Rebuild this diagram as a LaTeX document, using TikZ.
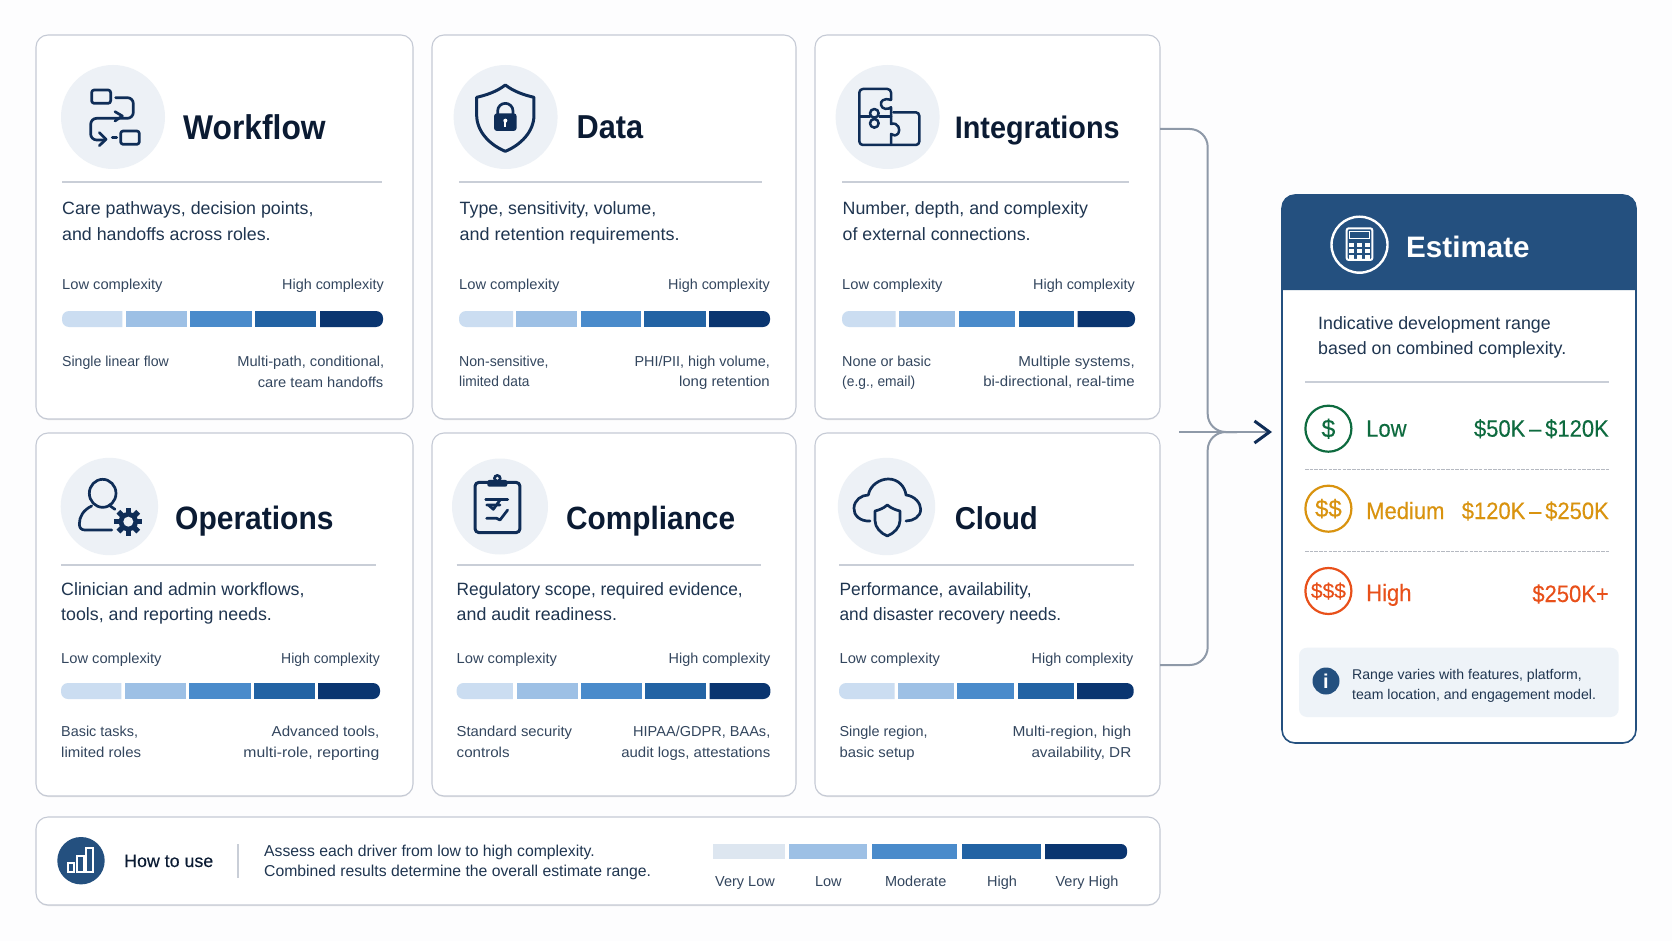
\documentclass[tikz,border=0pt]{standalone}
\usepackage{graphicx}
\usepackage{fontspec}
\setmainfont{Liberation Sans}
\newfontfamily\medfont[FakeBold=0.25]{Liberation Sans}
\usetikzlibrary{arrows.meta,calc}
\definecolor{bgc}{HTML}{FDFDFE}
\definecolor{navy}{HTML}{0F2D57}
\definecolor{ink}{HTML}{0B1B33}
\definecolor{dtext}{HTML}{1F3550}
\definecolor{stext}{HTML}{33465E}
\definecolor{cardb}{HTML}{C5CAD5}
\definecolor{sepc}{HTML}{C9CED7}
\definecolor{disc}{HTML}{EDF1F6}
\definecolor{sa}{HTML}{CBDDF1}
\definecolor{sb}{HTML}{9DC0E5}
\definecolor{sc}{HTML}{4A8BCB}
\definecolor{sd}{HTML}{2263A4}
\definecolor{se}{HTML}{0A3570}
\definecolor{sz}{HTML}{DDE6F0}
\definecolor{hdr}{HTML}{24507F}
\definecolor{conc}{HTML}{8E99A8}
\definecolor{gr}{HTML}{0E6B3F}
\definecolor{am}{HTML}{D9930F}
\definecolor{rd}{HTML}{E8501A}
\definecolor{infoc}{HTML}{EEF3F8}
\newcommand{\fs}[1]{\fontsize{#1}{#1}\selectfont}
\newcommand{\sx}[2]{\scalebox{#1}[1]{#2}}
\newcommand{\tall}[1]{\scalebox{1}[1.08]{#1}}
\newcommand{\lowc}{\sx{1.02}{Low complexity}}
\newcount\tn
\newcommand{\LT}[4]{\global\advance\tn by 1 \node[anchor=base west,inner sep=0,#1] (t\the\tn) at (#2,#3) {#4};}
\newcommand{\RT}[4]{\global\advance\tn by 1 \node[anchor=base east,inner sep=0,#1] (t\the\tn) at (#2,#3) {#4};}
\newcommand{\CT}[4]{\global\advance\tn by 1 \node[anchor=base,inner sep=0,#1] (t\the\tn) at (#2,#3) {#4};}
\newcommand{\Card}[5]{\pgfmathsetmacro{\cw}{#4-#2}\pgfmathsetmacro{\ch}{#5-#3}\pgfmathsetmacro{\cx}{(#4+#2)/2}\pgfmathsetmacro{\cy}{(#5+#3)/2}
  \fill[black!10,rounded corners=12pt] (#2,#3+2) rectangle (#4,#5+1);
  \node[cardbox,minimum width=\cw pt,minimum height=\ch pt] (#1) at (\cx,\cy) {};}
\newcommand{\Bar}[7]{\fill[#1] (#5,#2) {[rounded corners=7pt] -- (#4,#2) -- (#4,#3)} -- (#5,#3) -- cycle;
  \fill[sb] (#6,#2) rectangle (#7,#3);}
\newcommand{\BarB}[9]{\fill[sc] (#3,#1) rectangle (#4,#2);
  \fill[sd] (#5,#1) rectangle (#6,#2);
  \fill[se] (#7,#1) {[rounded corners=7pt] -- (#8,#1) -- (#8,#2)} -- (#7,#2) -- cycle;}
\newcommand{\Sep}[3]{\draw[sepl] (#1,#3) -- (#2,#3);}
\tikzset{
 cardbox/.style={draw=cardb,fill=white,line width=1.1pt,rounded corners=12pt,inner sep=0,outer sep=0},
 sepl/.style={draw=sepc,line width=1.6pt},
 ttl/.style={text=ink},
 dsc/.style={font=\fs{17.8},text=dtext},
 sml/.style={font=\fs{14.4},text=stext},
 ico/.style={draw=navy,line width=2.7pt,line cap=round,line join=round},
 conn/.style={draw=conc,line width=2pt,rounded corners=18pt},
 rowlab/.style={font=\fs{22}\medfont},
}
\begin{document}
\begin{tikzpicture}[x=1pt,y=-1pt]
\fill[bgc] (0,0) rectangle (1672,941);
\useasboundingbox (0,0) rectangle (1672,941);
\coordinate (jt) at (1207.7,129);
\coordinate (jb) at (1207.7,665);
\coordinate (jm) at (1207.7,432);
\coordinate (am) at (1237,432);
\coordinate (as) at (1179,432);
\coordinate (ae) at (1272,432);
% cards
\Card{c1}{36}{35}{413}{419}
\Card{c2}{432}{35}{796}{419}
\Card{c3}{815}{35}{1160}{419}
\Card{c4}{36}{433}{413}{796}
\Card{c5}{432}{433}{796}{796}
\Card{c6}{815}{433}{1160}{796}
\Card{c7}{36}{817}{1160}{905}
\coordinate (c3o) at (c3.east |- jt);
\coordinate (c6o) at (c6.east |- jb);
\draw[conn] (c3o) -- (jt) -- (jm) -- (am);
\draw[conn] (c6o) -- (jb) -- (jm) -- (am);
\draw[draw=conc,line width=2pt,-{Straight Barb[color=navy,length=15pt,width=22pt,line width=3pt]}] (as) -- (ae);
% discs
\foreach \n/\x/\y/\r in {d1/113/117/52,d2/505.6/117/52,d3/887.6/117/52,d4/109.4/506.5/48.7,d5/500/506.5/48,d6/886.5/506.5/48.7}{
  \fill[disc] (\x,\y) circle (\r);
}
% ---- card 1
\LT{ttl,font=\fs{31.8}\bfseries}{183}{139.5}{\tall{Workflow}}
\Sep{62}{382}{182}
\LT{dsc}{62}{215}{Care pathways, decision points,}
\LT{dsc}{62}{241}{and handoffs across roles.}
\LT{sml}{62}{289}{\lowc}
\RT{sml}{384}{289}{High complexity}
\Bar{sa}{311}{327}{62}{122.4}{126}{187}
\BarB{311}{327}{190}{251.5}{255}{316}{320}{383}{}
\LT{sml}{62}{366}{\sx{0.98}{Single linear flow}}
\RT{sml}{384.5}{366}{\sx{1.02}{Multi-path, conditional,}}
\RT{sml}{383.5}{387}{\sx{1.02}{care team handoffs}}
% ---- card 2
\LT{ttl,font=\fs{30.7}\bfseries}{576.5}{139}{\tall{Data}}
\Sep{459}{762}{182}
\LT{dsc}{459.5}{215}{Type, sensitivity, volume,}
\LT{dsc}{459.5}{241}{\sx{1.01}{and retention requirements.}}
\LT{sml}{459}{289}{\lowc}
\RT{sml}{770}{289}{High complexity}
\Bar{sa}{311}{327}{459}{513}{516}{576.5}
\BarB{311}{327}{580.6}{641}{644}{705.6}{709}{770}{}
\LT{sml}{459}{366}{\sx{0.98}{Non-sensitive,}}
\LT{sml}{459}{386}{\sx{0.955}{limited data}}
\RT{sml}{770}{366}{PHI/PII, high volume,}
\RT{sml}{770}{386}{\sx{1.04}{long retention}}
% ---- card 3
\LT{ttl,font=\fs{28.8}\bfseries}{954.6}{139}{\tall{Integrations}}
\Sep{842}{1129}{182}
\LT{dsc}{842.5}{215}{Number, depth, and complexity}
\LT{dsc}{842.5}{241}{of external connections.}
\LT{sml}{842}{289}{\lowc}
\RT{sml}{1135}{289}{High complexity}
\Bar{sa}{311}{327}{842}{895.7}{899}{954.6}
\BarB{311}{327}{958.5}{1014.7}{1018.6}{1074}{1077.5}{1135}{}
\LT{sml}{842}{366}{None or basic}
\LT{sml}{842}{386}{\sx{0.96}{(e.g., email)}}
\RT{sml}{1135}{366}{\sx{1.055}{Multiple systems,}}
\RT{sml}{1135}{386}{\sx{1.04}{bi-directional, real-time}}
% ---- card 4
\LT{ttl,font=\fs{30}\bfseries}{175}{529.5}{\tall{Operations}}
\Sep{61}{375.5}{565}
\LT{dsc}{61}{595}{Clinician and admin workflows,}
\LT{dsc}{61}{620}{tools, and reporting needs.}
\LT{sml}{61}{663}{\lowc}
\RT{sml}{380}{663}{\sx{0.97}{High complexity}}
\Bar{sa}{683}{699}{61}{121.4}{125}{186}
\BarB{683}{699}{189}{250.5}{254}{315}{318}{380}{}
\LT{sml}{61}{736}{Basic tasks,}
\LT{sml}{61}{757}{\sx{1.04}{limited roles}}
\RT{sml}{379.5}{736}{\sx{1.05}{Advanced tools,}}
\RT{sml}{379.5}{757}{\sx{1.095}{multi-role, reporting}}
% ---- card 5
\LT{ttl,font=\fs{29.8}\bfseries}{566}{529.5}{\tall{Compliance}}
\Sep{456.5}{761}{565}
\LT{dsc}{456.5}{595}{\sx{0.97}{Regulatory scope, required evidence,}}
\LT{dsc}{456.5}{620}{and audit readiness.}
\LT{sml}{456.5}{663}{\lowc}
\RT{sml}{770.5}{663}{High complexity}
\Bar{sa}{683}{699}{456.6}{512.8}{516.8}{577.5}
\BarB{683}{699}{581}{642}{645.4}{706}{709.7}{770.4}{}
\LT{sml}{456.5}{736}{\sx{1.03}{Standard security}}
\LT{sml}{456.5}{757}{\sx{1.05}{controls}}
\RT{sml}{770.5}{736}{\sx{1.01}{HIPAA/GDPR, BAAs,}}
\RT{sml}{770.5}{757}{\sx{1.04}{audit logs, attestations}}
% ---- card 6
\LT{ttl,font=\fs{29.3}\bfseries}{954.6}{529.5}{\tall{Cloud}}
\Sep{839.4}{1133.7}{565}
\LT{dsc}{839.4}{595}{\sx{0.972}{Performance, availability,}}
\LT{dsc}{839.4}{620}{\sx{0.97}{and disaster recovery needs.}}
\LT{sml}{839.4}{663}{\lowc}
\RT{sml}{1133.5}{663}{High complexity}
\Bar{sa}{683}{699}{839}{894.5}{898}{954}
\BarB{683}{699}{957.4}{1014}{1018}{1073.6}{1077}{1133.7}{}
\LT{sml}{839.4}{736}{Single region,}
\LT{sml}{839.4}{757}{\sx{1.03}{basic setup}}
\RT{sml}{1131.5}{736}{\sx{1.075}{Multi-region, high}}
\RT{sml}{1131.5}{757}{\sx{1.06}{availability, DR}}
% ---- strip
\node[circle,fill=hdr,minimum size=47.4pt,inner sep=0] (usecirc) at (81,860.7) {};
\LT{ttl,font=\fs{17.8}\medfont}{124}{867}{How to use}
\draw[draw=sepc,line width=1.3pt] (238,844) -- (238,878);
\LT{font=\fs{15.75},text=dtext}{264}{856}{Assess each driver from low to high complexity.}
\LT{font=\fs{15.75},text=dtext}{264}{876.5}{Combined results determine the overall estimate range.}
\fill[sz] (713,844) rectangle (785,859);
\fill[sb] (789,844) rectangle (867,859);
\fill[sc] (872,844) rectangle (957.4,859);
\fill[sd] (962,844) rectangle (1041,859);
\fill[se] (1045,844) {[rounded corners=6pt] -- (1127,844) -- (1127,859)} -- (1045,859) -- cycle;
\CT{sml,font=\fs{14.5}}{745}{886}{Very Low}
\CT{sml,font=\fs{14.5}}{828.4}{886}{Low}
\CT{sml,font=\fs{14.5}}{915.7}{886}{Moderate}
\CT{sml,font=\fs{14.5}}{1002}{886}{High}
\CT{sml,font=\fs{14.5}}{1087}{886}{Very High}
% ---- estimate panel
\node[draw=hdr,fill=white,line width=1.6pt,rounded corners=13pt,minimum width=354pt,minimum height=548pt,inner sep=0] (est) at (1459,469) {};
\fill[hdr] (1282,290) {[rounded corners=13pt] -- (1282,195) -- (1636,195)} -- (1636,290) -- cycle;
\node[circle,draw=white,line width=2.4pt,minimum size=56pt,inner sep=0] (calc) at (1359.5,244.7) {};
\begin{scope}[shift={(1280,195)},x=0.3333pt,y=-0.3333pt]
\draw[white,line width=2pt,rounded corners=2pt] (200,100) rectangle (277,195);
\draw[white,line width=1.4pt] (208,110) rectangle (269,131);
\foreach \u in {215,238,262}\foreach \v in {150,167,185}{\fill[white] (\u-7,\v-6) rectangle (\u+7,\v+6);}
\end{scope}
\LT{font=\fs{29.6}\bfseries,text=white}{1406}{258}{Estimate}
\LT{font=\fs{17.8},text=dtext}{1318}{329}{Indicative development range}
\LT{font=\fs{17.8},text=dtext}{1318}{354}{based on combined complexity.}
\Sep{1305}{1609}{382}
\draw[draw=sepc!90!black,line width=1.3pt,dash pattern=on 3.5pt off 1.2pt] (1305,469.7) -- (1609,469.7);
\draw[draw=sepc!90!black,line width=1.3pt,dash pattern=on 3.5pt off 1.2pt] (1305,551.7) -- (1609,551.7);
\node[circle,draw=gr,line width=2.2pt,minimum size=46pt,inner sep=0,text=gr,font=\fs{25}\medfont] (rl) at (1328.4,428.7) {\$};
\node[circle,draw=am,line width=2.2pt,minimum size=46pt,inner sep=0,text=am,font=\fs{24}\medfont] (rm) at (1328.4,508.7) {\$\$};
\node[circle,draw=rd,line width=2.2pt,minimum size=46pt,inner sep=0,text=rd,font=\fs{21}\medfont] (rh) at (1328.4,591) {\$\$\$};
\LT{rowlab,text=gr}{1366}{436.7}{\tall{Low}}
\LT{rowlab,text=am}{1366}{519}{\tall{Medium}}
\LT{rowlab,text=rd}{1366}{601}{\tall{High}}
\RT{rowlab,text=gr}{1609}{436.7}{\tall{\$50K\kern3.8pt–\kern3.8pt\$120K}}
\RT{rowlab,text=am}{1609}{519}{\tall{\$120K\kern3.8pt–\kern3.8pt\$250K}}
\RT{rowlab,text=rd}{1609}{602}{\tall{\$250K+}}
\fill[infoc,rounded corners=8pt] (1299,647.7) rectangle (1618.7,717);
\node[circle,fill=hdr,minimum size=27pt,inner sep=0,text=white,font=\fs{20}\bfseries] (inf) at (1326,681) {i};
\LT{font=\fs{14.1},text=dtext}{1352}{679}{Range varies with features, platform,}
\LT{font=\fs{14.1},text=dtext}{1352}{699}{team location, and engagement model.}
% ---- icons
\begin{scope}[shift={(50,50)},x=0.3333pt,y=-0.3333pt]
\draw[ico,rounded corners=2.5pt] (125,120) rectangle (182,160);
\draw[ico,rounded corners=6pt] (197,143) -- (250,143) -- (250,205) -- (122,205) -- (122,270) -- (166,270);
\draw[ico] (195,185) -- (217,198) -- (195,213);
\draw[ico] (148,248) -- (168,268) -- (148,287);
\draw[ico] (187,263) -- (200,263);
\draw[ico,rounded corners=2.5pt] (212,243) rectangle (268,283);
\end{scope}
\begin{scope}[shift={(445,50)},x=0.3333pt,y=-0.3333pt]
\draw[ico,line width=3pt] (181,105) .. controls (155,125) and (125,135) .. (95,142) -- (95,195) .. controls (95,245) and (135,285) .. (181,304) .. controls (227,285) and (267,245) .. (267,195) -- (267,142) .. controls (237,135) and (207,125) .. (181,105) -- cycle;
\fill[navy,rounded corners=3pt] (147,190) rectangle (215,243);
\draw[ico] (158,192) -- (158,183) arc (180:360:23) -- (204,192);
\fill[white] (181,212) circle (6);
\fill[white] (178,212) rectangle (184,230);
\end{scope}
\begin{scope}[shift={(830,50)},x=0.3333pt,y=-0.3333pt]
\draw[ico,line width=2.5pt,rounded corners=3.5pt] (183,150) -- (183,117) -- (88,117) -- (88,285) -- (268,285) -- (268,187) -- (190,187);
\draw[ico,line width=2.5pt] (183,150) .. controls (160,142) and (150,155) .. (153,165) .. controls (155,178) and (175,180) .. (183,172) -- (183,222) .. controls (205,215) and (212,240) .. (205,250) .. controls (198,258) and (190,258) .. (183,252) -- (183,285);
\draw[ico,line width=2.5pt] (88,200) -- (120,200) (148,200) -- (183,200);
\draw[ico,line width=2.5pt] (133,190) circle (13) (133,220) circle (13);
\end{scope}
\begin{scope}[shift={(50,450)},x=0.3333pt,y=-0.3333pt]
\draw[ico] (158,130) ellipse (40 and 42);
\draw[ico] (125,168) .. controls (100,180) and (88,200) .. (88,222) .. controls (88,235) and (95,240) .. (105,240) -- (185,240);
\draw[ico] (178,166) -- (195,178);
\fill[navy] (235,215) circle (29);
\foreach \a in {0,45,...,315}{\fill[navy,rotate around={\a:(235,215)}] (227,173) rectangle (243,190);}
\fill[disc] (235,215) circle (15);
\end{scope}
\begin{scope}[shift={(445,450)},x=0.3333pt,y=-0.3333pt]
\draw[ico,rounded corners=4pt,line width=3pt] (90,97) rectangle (225,248);
\fill[navy,rounded corners=2pt] (127,90) rectangle (187,110);
\fill[navy] (157,85) circle (13);
\fill[disc] (157,85) circle (4.5);
\draw[ico] (122,148) -- (188,148);
\draw[ico] (125,165) -- (165,165) (130,165) -- (145,178) -- (165,150);
\draw[ico] (125,205) -- (155,205) -- (165,210) -- (188,180);
\end{scope}
\begin{scope}[shift={(830,450)},x=0.3333pt,y=-0.3333pt]
\draw[ico] (120,213) .. controls (90,215) and (70,195) .. (72,175) .. controls (72,150) and (95,135) .. (115,135) .. controls (120,105) and (150,87) .. (175,87) .. controls (205,87) and (225,110) .. (228,135) .. controls (255,138) and (272,160) .. (272,178) .. controls (272,200) and (250,213) .. (228,213);
\draw[ico] (172,165) .. controls (160,175) and (148,180) .. (135,183) -- (135,212) .. controls (135,232) and (152,250) .. (172,258) .. controls (192,250) and (210,232) .. (210,212) -- (210,183) .. controls (197,180) and (184,175) .. (172,165) -- cycle;
\end{scope}
\begin{scope}[shift={(40,820)},x=0.3333pt,y=-0.3333pt]
\draw[white,line width=1.8pt] (83,130) rectangle (103,157) (112,108) rectangle (132,157) (138,85) rectangle (160,157);
\end{scope}
\end{tikzpicture}
\end{document}
